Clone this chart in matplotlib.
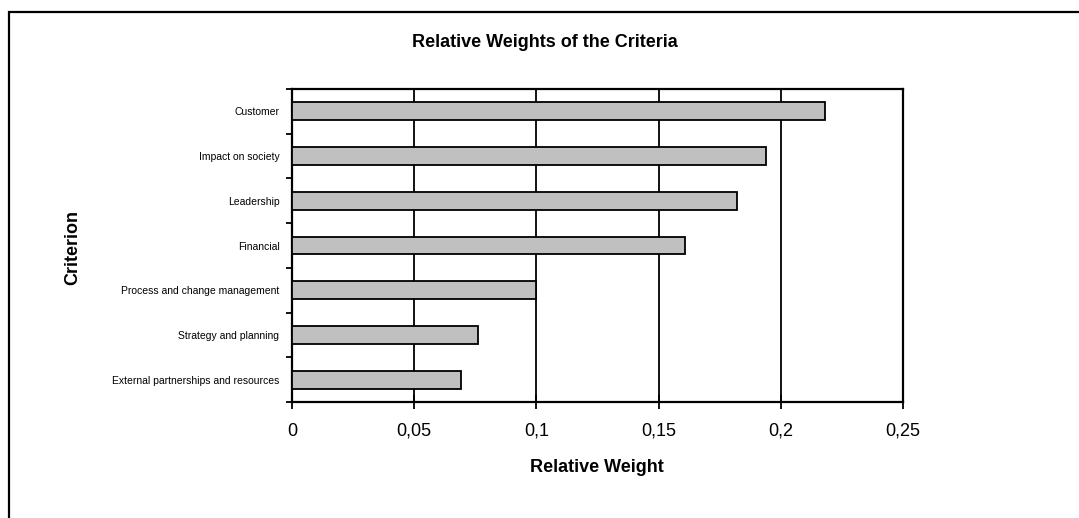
import matplotlib.pyplot as plt
from matplotlib.patches import Rectangle
from matplotlib.ticker import FixedLocator, FuncFormatter

plt.rcParams['font.family'] = ['Liberation Sans', 'DejaVu Sans']

criteria = ["Customer", "Impact on society", "Leadership", "Financial",
            "Process and change management", "Strategy and planning",
            "External partnerships and resources"]
weights = [0.218, 0.194, 0.182, 0.161, 0.100, 0.076, 0.069]
x_ticks = [0, 0.05, 0.1, 0.15, 0.2, 0.25]

W, H = 1079, 518
fig = plt.figure(figsize=(W / 100, H / 100), dpi=100)
fig.patch.set_facecolor('white')

# outer chart frame (cut off at right and bottom like the original)
fig.patches.append(Rectangle((9 / W, -0.2), 1.2, 1.2 - 12 / H,
                             transform=fig.transFigure, fill=False,
                             edgecolor='black', linewidth=1.6, clip_on=False))

ax = fig.add_axes([292 / W, 1 - 402 / H, (903 - 292) / W, (402 - 89) / H])

pos = list(range(len(criteria)))
ax.barh(pos, weights, height=0.4, color='#c0c0c0', edgecolor='black',
        linewidth=1.3, zorder=3)

ax.set_xlim(0, 0.25)
ax.set_ylim(len(criteria) - 0.5, -0.5)

# vertical gridlines
for t in x_ticks[1:-1]:
    ax.axvline(t, color='black', linewidth=1.3, zorder=1)

ax.xaxis.set_major_locator(FixedLocator(x_ticks))
ax.xaxis.set_major_formatter(FuncFormatter(lambda v, p: f"{v:g}".replace('.', ',')))
ax.tick_params(axis='x', direction='inout', length=10, width=1.3,
               labelsize=13, pad=10)

ax.set_yticks(pos)
ax.set_yticklabels(criteria, fontsize=7.5)
ax.tick_params(axis='y', which='major', length=0, pad=9)
ax.set_yticks([p - 0.5 for p in range(len(criteria) + 1)], minor=True)
ax.tick_params(axis='y', which='minor', direction='out', length=4, width=1.3)

for s in ax.spines.values():
    s.set_linewidth(1.6)
    s.set_color('black')

fig.text(545 / W, 1 - 42 / H, "Relative Weights of the Criteria",
         ha='center', va='center', fontsize=13, fontweight='bold')
fig.text(597 / W, 1 - 467 / H, "Relative Weight",
         ha='center', va='center', fontsize=13, fontweight='bold')
fig.text(73 / W, 1 - 248 / H, "Criterion", rotation=90,
         ha='center', va='center', fontsize=13, fontweight='bold')

fig.savefig("out.png", dpi=100)
